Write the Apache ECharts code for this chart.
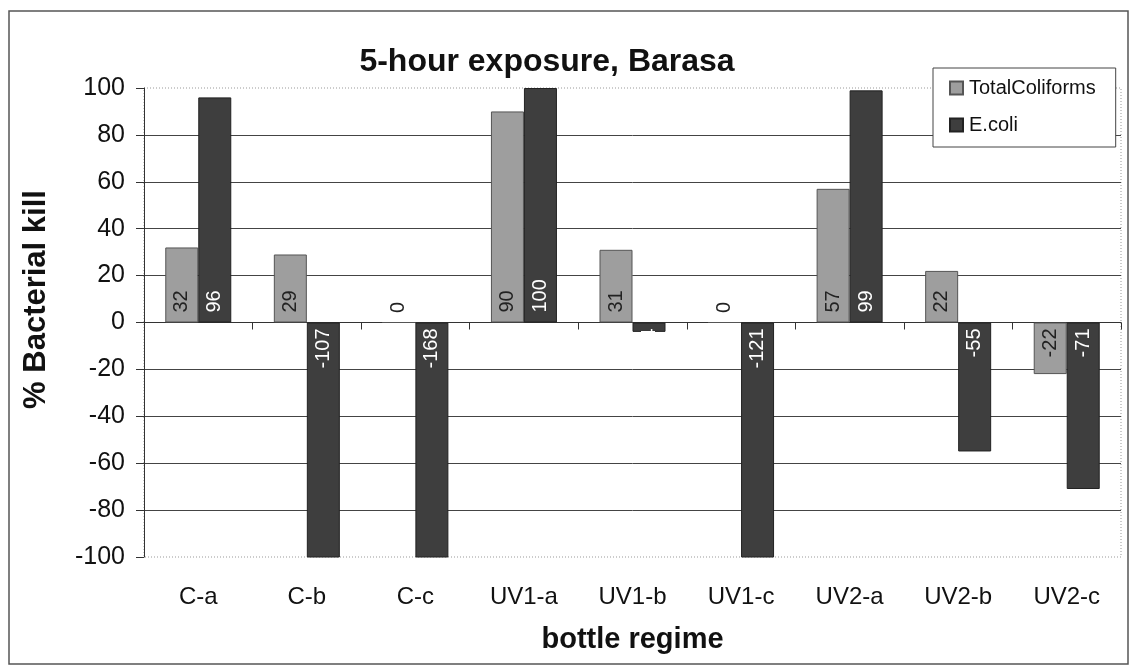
<!DOCTYPE html>
<html>
<head>
<meta charset="utf-8">
<script src="https://cdn.jsdelivr.net/npm/echarts@6/dist/echarts.min.js"></script>
<style>
  html, body { margin: 0; padding: 0; background: #fff; }
  #chart { width: 1136px; height: 669px; }
</style>
</head>
<body>
<div id="chart"></div>
<script>
// data
var categories = ["C-a", "C-b", "C-c", "UV1-a", "UV1-b", "UV1-c", "UV2-a", "UV2-b", "UV2-c"];
var totalColiforms = [32, 29, 0, 90, 31, 0, 57, 22, -22];
var eColi = [96, -107, -168, 100, -4, -121, 99, -55, -71];
var seriesNames = ["TotalColiforms", "E.coli"];
var yTicks = [-100, -80, -60, -40, -20, 0, 20, 40, 60, 80, 100];

var font = "Liberation Sans, Arial, sans-serif";

// label at the base of each bar, rotated, like Excel's "inside base"
function withLabels(values, color) {
  return values.map(function (v) {
    var neg = v < 0;
    return {
      value: v,
      label: {
        show: true,
        position: neg ? "insideTop" : "insideBottom",
        rotate: 90,
        align: neg ? "right" : "left",
        verticalAlign: "middle",
        distance: neg ? 6 : 10,
        color: v === 0 ? "#222" : color,
        fontSize: 20,
        fontFamily: font
      }
    };
  });
}

var chart = echarts.init(document.getElementById("chart"));
chart.setOption({
  animation: false,
  backgroundColor: "#fff",
  title: {
    text: "5-hour exposure, Barasa",
    left: 542,
    textAlign: "center",
    top: 41,
    textStyle: { fontSize: 32, fontWeight: "bold", color: "#111", fontFamily: font }
  },
  legend: {
    orient: "vertical",
    left: 933,
    top: 68,
    width: 178,
    padding: [10, 20, 12, 16],
    itemGap: 17,
    itemWidth: 13,
    itemHeight: 13,
    icon: "rect",
    borderColor: "#444",
    borderWidth: 1,
    backgroundColor: "#fff",
    textStyle: { fontSize: 20, color: "#111", fontFamily: font, padding: [0, 0, 0, 1] },
    data: seriesNames,
    z: 10
  },
  grid: { left: 144, top: 88, right: 15, bottom: 112 },
  xAxis: [
    {
      type: "category",
      data: categories,
      position: "bottom",
      axisLine: { show: false, onZero: false },
      axisTick: { show: false },
      axisLabel: { fontSize: 24, color: "#111", fontFamily: font, margin: 28 },
      name: "bottle regime",
      nameLocation: "middle",
      nameGap: 68,
      nameTextStyle: { fontSize: 29, fontWeight: "bold", color: "#111", fontFamily: font }
    },
    {
      type: "category",
      data: categories,
      position: "bottom",
      axisLine: { show: true, onZero: true, lineStyle: { color: "#333", width: 1 } },
      axisTick: { show: true, length: 7, lineStyle: { color: "#333" } },
      axisLabel: { show: false }
    }
  ],
  yAxis: {
    type: "value",
    min: yTicks[0],
    max: yTicks[yTicks.length - 1],
    interval: 20,
    axisLine: { show: true, lineStyle: { color: "#333", width: 1 } },
    axisTick: { show: true, length: 8, lineStyle: { color: "#333" } },
    axisLabel: { fontSize: 25, color: "#111", fontFamily: font, margin: 19 },
    splitLine: { show: true, showMinLine: false, showMaxLine: false, lineStyle: { color: "#444", width: 1 } },
    name: "% Bacterial kill",
    nameLocation: "middle",
    nameGap: 92,
    nameTextStyle: { fontSize: 31, fontWeight: "bold", color: "#111", fontFamily: font, padding: [0, 0, 0, 46] }
  },
  graphic: [
    {
      // outer frame of the chart
      type: "rect",
      shape: { x: 9, y: 11, width: 1119, height: 653 },
      style: { fill: "none", stroke: "#555", lineWidth: 1.5 },
      silent: true
    },
    {
      // dotted plot area border
      type: "rect",
      shape: { x: 144, y: 88, width: 977, height: 469 },
      style: { fill: "none", stroke: "#999", lineWidth: 1, lineDash: [1, 2] },
      silent: true,
      z: -1
    }
  ],
  series: [
    {
      name: seriesNames[0],
      type: "bar",
      barWidth: 33,
      barGap: "0%",
      itemStyle: { color: "#9e9e9e", borderColor: "#555", borderWidth: 1 },
      data: withLabels(totalColiforms, "#222")
    },
    {
      name: seriesNames[1],
      type: "bar",
      barWidth: 33,
      barGap: "0%",
      itemStyle: { color: "#3e3e3e", borderColor: "#222", borderWidth: 1 },
      data: withLabels(eColi, "#fff")
    }
  ]
});
</script>
</body>
</html>
